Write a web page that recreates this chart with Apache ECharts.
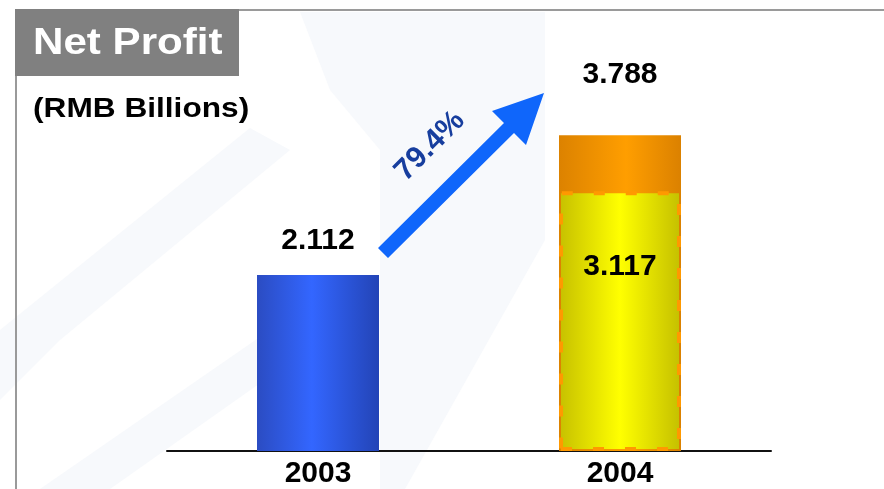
<!DOCTYPE html>
<html>
<head>
<meta charset="utf-8">
<title>Net Profit</title>
<script src="https://cdn.jsdelivr.net/npm/echarts@6/dist/echarts.min.js"></script>
<style>
  html, body { margin: 0; padding: 0; background: #ffffff; }
  #chart { width: 884px; height: 489px; }
</style>
</head>
<body>
<div id="chart"></div>
<script>
// Net profit, RMB billions
const years = ['2003', '2004'];
const netProfit = [2.112, 3.788];          // full-year totals
const coreProfit2004 = ['-', 3.117];       // inner portion shown for 2004
const titleText = 'Net Profit';
const unitText = '(RMB Billions)';

const FONT = 'Arial, "Liberation Sans", Helvetica, sans-serif';

// year-on-year growth, shown on the arrow
const growthPct = ((netProfit[1] / netProfit[0] - 1) * 100).toFixed(1) + '%';

function hGrad(edgeL, mid, edgeR, midAt) {
  return new echarts.graphic.LinearGradient(0, 0, 1, 0, [
    { offset: 0, color: edgeL },
    { offset: midAt, color: mid },
    { offset: 1, color: edgeR }
  ]);
}

const blueFill = hGrad('#2b4cc2', '#3366ff', '#2344b6', 0.45);
const orangeFill = hGrad('#dc8200', '#ff9e00', '#db8100', 0.55);
const yellowFill = hGrad('#c6c000', '#ffff00', '#c4bf00', 0.5);

const chart = echarts.init(document.getElementById('chart'), null, { renderer: 'canvas' });

// faint diagonal watermark bands behind the chart
const wm = '#f7f9fc';
const watermark = [
  [[0, 400], [0, 330], [250, 128], [290, 150], [60, 340]],
  [[40, 489], [270, 330], [300, 355], [110, 489]],
  [[300, 12], [545, 12], [545, 240], [405, 489], [380, 489], [380, 150], [330, 90]]
].map(pts => ({
  type: 'polygon',
  silent: true,
  z: -10,
  shape: { points: pts },
  style: { fill: wm }
}));

// arrow geometry (45 degrees, tail lower-left, tip upper-right)
const arrowPts = [
  [378, 248], [504, 123], [492, 111], [544, 93],
  [526, 145], [514, 133], [388, 258]
];

chart.setOption({
  backgroundColor: '#ffffff',
  animation: false,
  grid: {
    left: 167, right: 113, top: 76, bottom: 38,
    outerBoundsMode: 'none'
  },
  xAxis: {
    type: 'category',
    data: years,
    axisLine: { show: true, lineStyle: { color: '#111111', width: 2 } },
    axisTick: { show: false },
    axisLabel: {
      color: '#000000',
      fontFamily: FONT,
      fontWeight: 'bold',
      fontSize: 30,
      margin: 8
    },
    splitLine: { show: false }
  },
  yAxis: {
    type: 'value',
    min: 0,
    max: 4.5,
    show: false,
    splitLine: { show: false }
  },
  series: [
    {
      name: 'Net Profit',
      type: 'bar',
      barWidth: 122,
      barGap: '-100%',
      z: 2,
      data: [
        {
          value: netProfit[0],
          itemStyle: { color: blueFill },
          label: { distance: 19 }
        },
        {
          value: netProfit[1],
          itemStyle: { color: orangeFill },
          label: { distance: 46 }
        }
      ],
      label: {
        show: true,
        position: 'top',
        color: '#000000',
        fontFamily: FONT,
        fontWeight: 'bold',
        fontSize: 30,
        formatter: p => p.value.toFixed(3)
      }
    },
    {
      name: 'Core',
      type: 'bar',
      barWidth: 122,
      barGap: '-100%',
      z: 3,
      data: coreProfit2004,
      itemStyle: {
        color: yellowFill,
        borderColor: '#ff9900',
        borderWidth: 4,
        borderType: [11, 21]
      },
      label: {
        show: true,
        position: 'insideTop',
        distance: 60,
        color: '#000000',
        fontFamily: FONT,
        fontWeight: 'bold',
        fontSize: 30,
        formatter: p => Number(p.value).toFixed(3)
      }
    }
  ],
  graphic: [
    ...watermark,
    // frame lines
    {
      type: 'line', silent: true, z: 5,
      shape: { x1: 16, y1: 10, x2: 884, y2: 10 },
      style: { stroke: '#9a9a9a', lineWidth: 2 }
    },
    {
      type: 'line', silent: true, z: 5,
      shape: { x1: 16, y1: 10, x2: 16, y2: 489 },
      style: { stroke: '#9a9a9a', lineWidth: 2 }
    },
    // title tab
    {
      type: 'rect', silent: true, z: 6,
      shape: { x: 15, y: 9, width: 224, height: 67 },
      style: { fill: '#808080' }
    },
    {
      type: 'text', silent: true, z: 7,
      x: 33, y: 44, scaleX: 1.17,
      style: {
        text: titleText,
        fill: '#ffffff',
        font: 'bold 36px ' + FONT,
        textAlign: 'left',
        textVerticalAlign: 'middle'
      }
    },
    {
      type: 'text', silent: true, z: 7,
      x: 33, y: 109, scaleX: 1.13,
      style: {
        text: unitText,
        fill: '#000000',
        font: 'bold 28px ' + FONT,
        textAlign: 'left',
        textVerticalAlign: 'middle'
      }
    },
    // growth arrow
    {
      type: 'polygon', silent: true, z: 8,
      shape: { points: arrowPts },
      style: { fill: '#0f66fb' }
    },
    {
      type: 'text', silent: true, z: 8,
      x: 430, y: 146, rotation: Math.PI / 4,
      style: {
        text: growthPct,
        fill: '#173e9e',
        font: 'bold 30px ' + FONT,
        textAlign: 'center',
        textVerticalAlign: 'middle'
      }
    }
  ]
});
</script>
</body>
</html>
